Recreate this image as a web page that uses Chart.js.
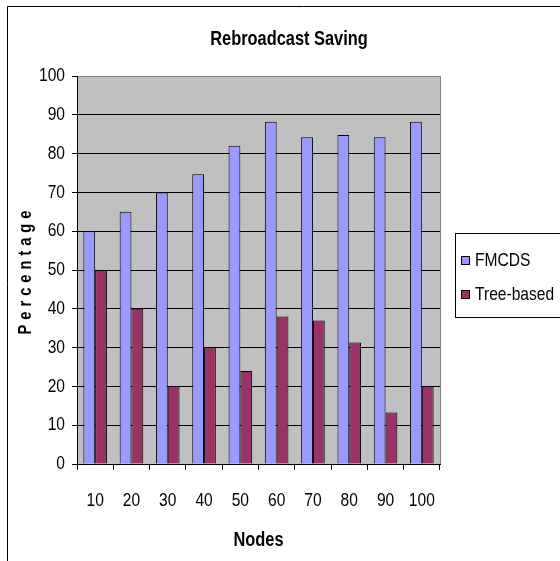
<!DOCTYPE html>
<html>
<head>
<meta charset="utf-8">
<title>Rebroadcast Saving</title>
<script src="https://cdn.jsdelivr.net/npm/chart.js"></script>
<style>
  html, body { margin: 0; padding: 0; background: #fff; overflow: hidden; }
  #wrap { width: 560px; height: 561px; overflow: hidden; }
</style>
</head>
<body>
<div id="wrap"><canvas id="chart" width="600" height="561"></canvas></div>
<script>
// data
const nodes = ['10', '20', '30', '40', '50', '60', '70', '80', '90', '100'];
const fmcds = [60, 65, 70, 74.7, 82, 88.2, 84.2, 84.8, 84.2, 88.2];
const treeBased = [50, 40, 20, 30, 24, 38, 37, 31.3, 13.3, 20];
const seriesNames = ['FMCDS', 'Tree-based'];
const yTicks = [0, 10, 20, 30, 40, 50, 60, 70, 80, 90, 100];

const FONT = "'Liberation Sans', Arial, sans-serif";
const colors = ['#9999FF', '#993366'];
const SQUEEZE = 0.82; // the original text is narrow (Arial Narrow look)

const canvas = document.getElementById('chart');
const c2d = canvas.getContext('2d');
// draw every text a bit narrower around its anchor point
const plainFillText = c2d.fillText;
c2d.fillText = function (text, x, y, maxWidth) {
  this.save();
  this.translate(x, y);
  this.scale(SQUEEZE, 1);
  if (maxWidth === undefined) plainFillText.call(this, text, 0, 0);
  else plainFillText.call(this, text, 0, 0, maxWidth / SQUEEZE);
  this.restore();
};

// plot background, outer border, titles and legend box
const excelLook = {
  id: 'excelLook',
  beforeDraw(chart) {
    const { ctx, chartArea: a } = chart;
    ctx.save();
    ctx.fillStyle = '#C0C0C0';
    ctx.fillRect(a.left, a.top, a.right - a.left, a.bottom - a.top);
    ctx.strokeStyle = '#808080';
    ctx.lineWidth = 1;
    ctx.beginPath();
    ctx.moveTo(a.right + 0.5, a.top);
    ctx.lineTo(a.right + 0.5, a.bottom);
    ctx.stroke();
    ctx.restore();
  },
  afterDraw(chart) {
    const { ctx, chartArea: a } = chart;
    ctx.save();
    // outer chart border (right/bottom fall off the picture)
    ctx.strokeStyle = '#000';
    ctx.lineWidth = 1;
    ctx.beginPath();
    ctx.moveTo(7.5, 600);
    ctx.lineTo(7.5, 6.5);
    ctx.lineTo(600, 6.5);
    ctx.stroke();

    // chart title
    ctx.fillStyle = '#000';
    ctx.font = 'bold 20px ' + FONT;
    ctx.textAlign = 'center';
    ctx.textBaseline = 'middle';
    ctx.fillText('Rebroadcast Saving', 289, 39);

    // y axis title
    ctx.save();
    ctx.translate(26, (a.top + a.bottom) / 2 + 3);
    ctx.rotate(-Math.PI / 2);
    ctx.font = 'bold 18px ' + FONT;
    ctx.letterSpacing = '6px';
    ctx.fillText('Percentage', 3, 0);
    ctx.restore();

    // legend
    const lx = 455, ly = 233, lh = 84;
    ctx.strokeStyle = '#000';
    ctx.strokeRect(lx + 0.5, ly + 0.5, 200, lh);
    ctx.font = '19px ' + FONT;
    ctx.textAlign = 'left';
    ctx.textBaseline = 'middle';
    seriesNames.forEach((name, i) => {
      const cy = 260 + i * 34;
      ctx.fillStyle = colors[i];
      ctx.fillRect(lx + 6, cy - 4, 8, 8);
      ctx.strokeRect(lx + 6.5, cy - 3.5, 8, 8);
      ctx.fillStyle = '#000';
      ctx.fillText(name, lx + 20, cy + 1);
    });
    ctx.restore();
  }
};

new Chart(canvas, {
  type: 'bar',
  data: {
    labels: nodes,
    datasets: [
      { label: seriesNames[0], data: fmcds, backgroundColor: colors[0], borderColor: '#000', borderWidth: 1 },
      { label: seriesNames[1], data: treeBased, backgroundColor: colors[1], borderColor: '#000', borderWidth: 1 }
    ]
  },
  options: {
    responsive: false,
    animation: false,
    devicePixelRatio: 1,
    layout: { padding: { top: 76, left: 0, right: 160, bottom: 0 } },
    categoryPercentage: 0.65,
    barPercentage: 1,
    plugins: {
      legend: { display: false },
      title: { display: false },
      tooltip: { enabled: false }
    },
    scales: {
      x: {
        afterFit(scale) { scale.height = 97; },
        grid: { offset: true, drawOnChartArea: false, drawTicks: true, tickLength: 6, tickColor: '#000' },
        border: { color: '#000', width: 1 },
        ticks: { color: '#000', font: { family: FONT, size: 19 }, padding: 19, maxRotation: 0 },
        title: { display: true, text: 'Nodes', color: '#000', font: { family: FONT, size: 20, weight: 'bold' }, padding: { top: 0, bottom: 9 } }
      },
      y: {
        min: 0,
        max: 100,
        afterFit(scale) { scale.width = 77; },
        afterBuildTicks(scale) { scale.ticks = yTicks.map(v => ({ value: v })); },
        grid: {
          color: ctx => (ctx.tick && ctx.tick.value === 100 ? '#808080' : '#000'),
          tickColor: '#000',
          tickLength: 5,
          lineWidth: 1
        },
        border: { color: '#000', width: 1 },
        ticks: { color: '#000', font: { family: FONT, size: 19 }, padding: 7 }
      }
    }
  },
  plugins: [excelLook]
});
</script>
</body>
</html>
